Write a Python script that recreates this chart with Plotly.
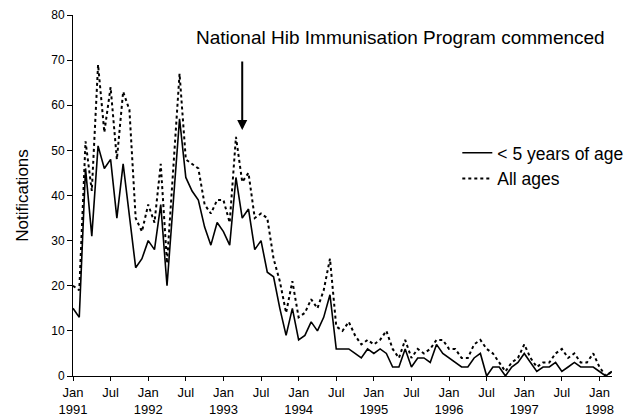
import plotly.graph_objects as go

months = list(range(87))  # Jan 1991 .. Mar 1998, monthly
under5 = [15, 13, 46, 31, 51, 46, 48, 35, 47, 35, 24, 26, 30,
          28, 38, 20, 39, 57, 44, 41, 39, 33, 29, 34, 32, 29,
          44, 35, 37, 28, 30, 23, 22, 15, 9, 15, 8, 9, 12,
          10, 13, 18, 6, 6, 6, 5, 4, 6, 5, 6, 5, 2, 2, 6,
          2, 4, 4, 3, 7, 5, 4, 3, 2, 2, 4, 5, 0, 2, 2, 0,
          2, 3, 5, 3, 1, 2, 2, 3, 1, 2, 3, 2, 2, 2, 1, 0, 1]
all_ages = [20, 19, 52, 41, 69, 54, 64, 48, 63, 59, 35, 32, 38,
            34, 47, 25, 46, 67, 48, 47, 46, 38, 36, 39, 39, 34,
            53, 43, 45, 35, 36, 35, 26, 21, 14, 21, 13, 14, 17,
            15, 19, 26, 11, 10, 12, 9, 7, 8, 7, 8, 10, 6, 4, 8,
            4, 6, 5, 6, 8, 8, 6, 6, 4, 4, 7, 8, 6, 5, 3, 1,
            3, 4, 7, 4, 2, 3, 3, 5, 6, 4, 5, 3, 3, 5, 2, 0, 1]
tick_pos = list(range(0, 85, 6))
tick_text = ["Jan<br>1991", "Jul", "Jan<br>1992", "Jul", "Jan<br>1993", "Jul",
             "Jan<br>1994", "Jul", "Jan<br>1995", "Jul", "Jan<br>1996", "Jul",
             "Jan<br>1997", "Jul", "Jan<br>1998"]
y_ticks = list(range(0, 81, 10))
arrow_month = 27
arrow_value = 54.5

FONT = "Liberation Sans, Arial, sans-serif"

fig = go.Figure()
fig.add_trace(go.Scatter(x=months, y=under5, mode="lines", name="< 5 years of age",
                         line=dict(color="black", width=1.6)))
fig.add_trace(go.Scatter(x=months, y=all_ages, mode="lines", name="All ages",
                         line=dict(color="black", width=2, dash="3px,3px")))

# the page body adds an ~8px offset; margins are shifted to compensate
fig.update_layout(
    width=633, height=420,
    margin=dict(l=65, r=29, t=7, b=52),
    plot_bgcolor="white", paper_bgcolor="white",
    font=dict(family=FONT, color="black", size=13),
    showlegend=True,
    legend=dict(x=0.713, y=0.668, xanchor="left", yanchor="top",
                bgcolor="rgba(0,0,0,0)", font=dict(size=17.5), tracegroupgap=0),
    xaxis=dict(range=[0, 86], tickmode="array", tickvals=tick_pos, ticktext=tick_text,
               showline=True, linecolor="black", linewidth=1, ticks="outside",
               ticklen=4, tickcolor="black", showgrid=False, zeroline=False,
               tickfont=dict(size=13), automargin=False),
    yaxis=dict(range=[0, 80], tickmode="array", tickvals=y_ticks,
               showline=True, linecolor="black", linewidth=1, ticks="outside",
               ticklen=5, tickcolor="black", showgrid=False, zeroline=False,
               tickfont=dict(size=12), automargin=False, ticklabeloverflow="allow",
               title=dict(text="Notifications", font=dict(size=17), standoff=18)),
)

fig.add_annotation(x=(400 - 73) / 539.0, y=(376 - 38) / 361.0, xref="paper", yref="paper",
                   yanchor="middle", xanchor="center",
                   text="National Hib Immunisation Program commenced",
                   showarrow=False, font=dict(size=19))
fig.add_annotation(x=arrow_month, y=arrow_value, xref="x", yref="y", text="",
                   showarrow=True, arrowhead=2, arrowsize=1, arrowwidth=2,
                   arrowcolor="black", ax=0, ay=-70)

fig.write_html("out.html")
